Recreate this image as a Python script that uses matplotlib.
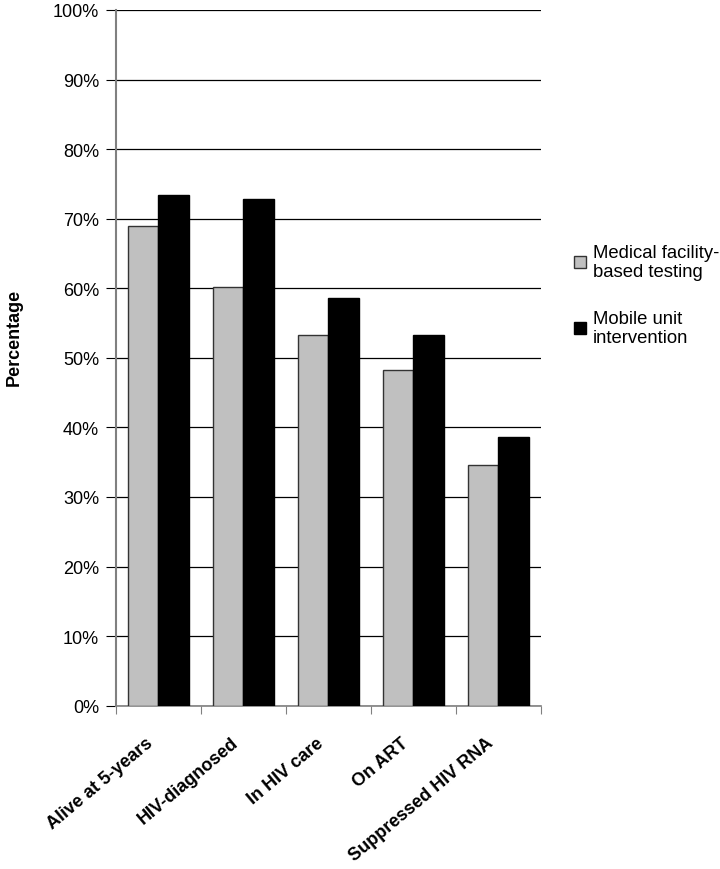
import matplotlib
matplotlib.use('Agg')
import matplotlib.pyplot as plt
import matplotlib.transforms as mtransforms
import numpy as np

plt.rcParams['font.family'] = ['Liberation Sans', 'DejaVu Sans']

categories = ['Alive at 5-years', 'HIV-diagnosed', 'In HIV care', 'On ART', 'Suppressed HIV RNA']
medical = [69.0, 60.2, 53.3, 48.2, 34.6]
mobile = [73.4, 72.9, 58.6, 53.3, 38.6]
series_names = ['Medical facility-\nbased testing', 'Mobile unit\nintervention']
yticks = [0, 10, 20, 30, 40, 50, 60, 70, 80, 90, 100]

fig = plt.figure(figsize=(7.2, 8.7), dpi=100)
ax = fig.add_axes([0.1607, 0.1877, 0.751 - 0.1607, 0.9874 - 0.1877])

x = np.arange(len(categories))
w = 0.357
ax.bar(x - w / 2, medical, w, color='#C0C0C0', edgecolor='#333333', linewidth=1.0,
       label=series_names[0], zorder=3)
ax.bar(x + w / 2, mobile, w, color='black', edgecolor='black', linewidth=1.0,
       label=series_names[1], zorder=3)

ax.set_xlim(-0.5, len(categories) - 0.5)
ax.set_ylim(0, 100)
ax.set_yticks(yticks)
ax.set_yticklabels(['%d%%' % v for v in yticks], fontsize=13)
ax.yaxis.grid(True, color='black', linewidth=0.9, zorder=0)

# ticks at category boundaries, labels at centers
ax.set_xticks(np.arange(len(categories) + 1) - 0.5)
ax.set_xticklabels([])
ax.set_xticks(x, minor=True)
ax.set_xticklabels(categories, minor=True, rotation=40, ha='right', va='center',
                   rotation_mode='anchor', fontsize=13, fontweight='bold')
ax.tick_params(axis='x', which='minor', length=0, pad=25)
ax.tick_params(axis='x', which='major', length=6, color='#808080', direction='out')
ax.tick_params(axis='y', length=7, color='black', direction='out', pad=5)
shift = mtransforms.ScaledTranslation(-0.07, 0, fig.dpi_scale_trans)
for lab in ax.get_xticklabels(minor=True):
    lab.set_transform(lab.get_transform() + shift)

for s in ['top', 'right']:
    ax.spines[s].set_visible(False)
ax.spines['left'].set_color('#808080')
ax.spines['bottom'].set_color('#808080')
ax.spines['left'].set_linewidth(1.5)
ax.spines['bottom'].set_linewidth(1.2)

fig.text(14 / 720, 1 - 337 / 870, 'Percentage', rotation=90, ha='center', va='center',
         fontsize=13, fontweight='bold')

leg = fig.legend(loc='upper left', bbox_to_anchor=(557 / 720, 1 - 228 / 870),
                 frameon=False, fontsize=13.3, handlelength=0.65, handleheight=0.65,
                 handletextpad=0.4, labelspacing=1.6)

plt.savefig('out.png', dpi=100)
